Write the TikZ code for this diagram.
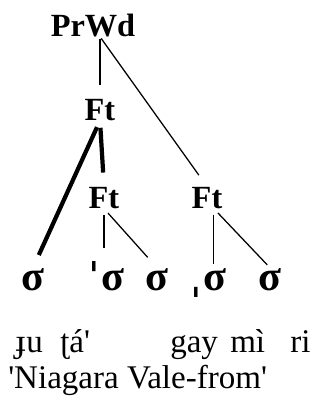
\documentclass[tikz,border=0pt]{standalone}
\usepackage{fontspec}
\setmainfont{Liberation Serif}[Ligatures=TeXOff]
\usetikzlibrary{positioning}

\newcommand{\prim}{{\fontsize{46}{46}\selectfont\raisebox{-0.42cm}{ˈ}}\kern-0.1cm}
\newcommand{\secn}{{\fontsize{46}{46}\selectfont\raisebox{0.17cm}{ˌ}}\kern-0.1cm}

\begin{document}
\begin{tikzpicture}[
  x=0.025cm, y=-0.025cm,
  cat/.style={font=\fontsize{23}{27}\selectfont\bfseries, inner sep=0pt, anchor=base},
  syl/.style={font=\fontsize{30}{34}\selectfont\bfseries, inner sep=0pt, anchor=base},
  gloss/.style={font=\fontsize{23.5}{27}\selectfont, inner sep=0pt, anchor=base west},
  branch/.style={line width=0.9pt, shorten <=0.05cm, shorten >=0.35cm},
  head/.style={line width=3pt, shorten <=0.18cm, shorten >=0.35cm}
]
  \useasboundingbox (0,0) rectangle (320,401);

  % prosodic word and feet
  \node[cat] (prwd) at (93,36) {PrWd};
  \node[cat] (ft1) at (100,120) {Ft};
  \node[cat] (ft2) at (104,208) {Ft};
  \node[cat] (ft3) at (207,208) {Ft};

  % syllables
  \node[syl] (s1) at (33,290) {σ};
  \node[syl] (s2) at (104,290) {\prim σ};
  \node[syl] (s3) at (157,290) {σ};
  \node[syl] (s4) at (206,290) {\secn σ};
  \node[syl] (s5) at (270,290) {σ};

  % segments and gloss
  \node[gloss] (g1) at (15,352) {ɟu};
  \node[gloss] (g2) at (60,352) {ʈá'};
  \node[gloss] (g3) at (170,352) {gay};
  \node[gloss] (g4) at (230,352) {mì};
  \node[gloss] (g5) at (290,352) {ri};
  \node[gloss] (trans) at (8,388) {'Niagara Vale-from'};

  \draw[branch] (ft1.north |- prwd.south) -- (ft1.north);
  \draw[branch] (ft1.north |- prwd.south) -- (ft3.north);
  \draw[head] (ft1.south) -- (s1.north);
  \draw[head] (ft1.south) -- (ft2.north);
  \draw[branch, shorten <=0.15cm] (ft2.south) -- (ft2.south |- s2.north);
  \draw[branch, shorten <=0.15cm] (ft2.south) -- (s3.north);
  \draw[branch, shorten <=0.15cm, shorten >=0.1cm] ([xshift=0.17cm]ft3.south) -- ([xshift=0.17cm]ft3.south |- s4.north);
  \draw[branch, shorten <=0.15cm, shorten >=0.1cm] ([xshift=0.17cm]ft3.south) -- (s5.north);
\end{tikzpicture}
\end{document}
